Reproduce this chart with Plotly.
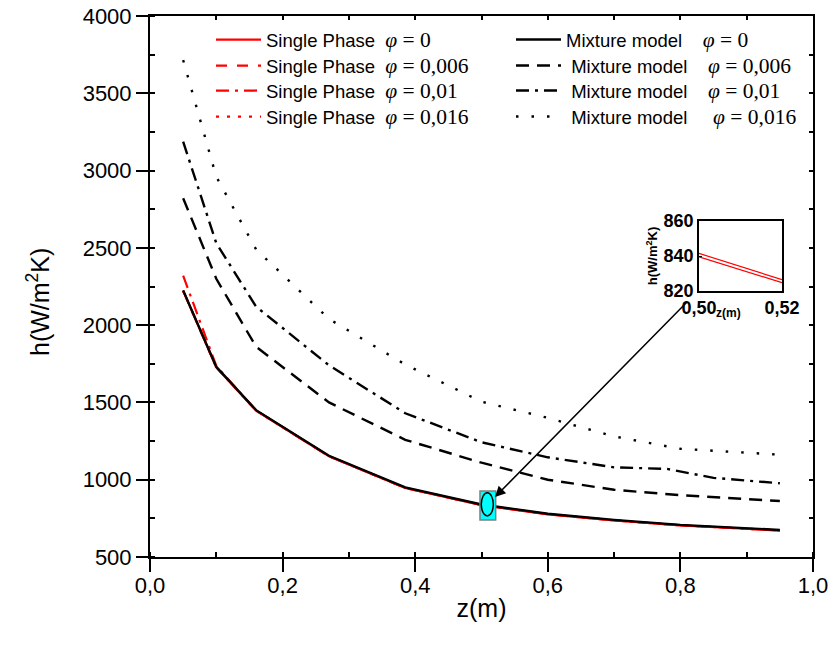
import plotly.graph_objects as go

# ---- data: heat transfer coefficient h along the tube axis z ----
z_main = [0.05, 0.10, 0.16, 0.27, 0.385, 0.50, 0.60, 0.70, 0.80, 0.95]

mix_0 = [2225, 1730, 1450, 1155, 950, 840, 780, 740, 708, 675]
mix_006 = [2821, 2300, 1860, 1500, 1258, 1110, 1000, 935, 900, 862]
z_mix_01 = [0.05, 0.10, 0.16, 0.27, 0.385, 0.50, 0.60, 0.70, 0.78, 0.85, 0.95]
mix_01 = [3187, 2530, 2120, 1740, 1430, 1242, 1145, 1080, 1070, 1012, 977]
z_mix_016 = [0.05, 0.10, 0.16, 0.27, 0.385, 0.50, 0.60, 0.70, 0.80, 0.95]
mix_016 = [3715, 2960, 2490, 2040, 1745, 1505, 1400, 1280, 1200, 1162]

sp_0 = [2222, 1727, 1447, 1151, 946, 836, 776, 736, 704, 671]
sp_006 = [2223, 1728, 1448, 1152, 947, 837, 777, 737, 705, 672]
sp_01 = [2320, 1736, 1448, 1152, 947, 837, 777, 737, 705, 672]
sp_016 = [2222, 1727, 1447, 1152, 947, 837, 777, 737, 705, 672]

# zoomed window around z = 0.5
z_zoom = [0.50, 0.52]
zoom_a = [841.5, 826.5]
zoom_b = [839.5, 824.8]

x_ticks = [0, 0.2, 0.4, 0.6, 0.8, 1.0]
x_ticktext = ["0,0", "0,2", "0,4", "0,6", "0,8", "1,0"]
y_ticks = [500, 1000, 1500, 2000, 2500, 3000, 3500, 4000]
zoom_xticks = [0.50, 0.52]
zoom_xtext = ["0,50", "0,52"]
zoom_yticks = [820, 840, 860]

phi_labels = ["0", "0,006", "0,01", "0,016"]

DASH = "13px,8px"
DASHDOT = "13px,6px,3px,6px"
DOT = "2.5px,13px"

NB = "\u00a0"

# plot area in pixels (used to place the legend rows)
FIG_W, FIG_H = 830, 645
M_L, M_R, M_T, M_B = 150, 17, 16, 88
PW, PH = FIG_W - M_L - M_R, FIG_H - M_T - M_B


def px_x(px):
    return (px - M_L) / PW


def px_y(py):
    return (FIG_H - M_B - py) / PH


def phi_text(val):
    return ('<span style="font-family:\'Liberation Serif\'; font-size:21.5px">'
            '<i>φ</i> = ' + val + '</span>')


fig = go.Figure()

legend_rows = [40, 66, 91, 117]
legend_layouts = {}

sp_series = [(sp_0, "solid"), (sp_006, "11px,10px"), (sp_01, DASHDOT), (sp_016, "3px,8px")]
for i, ((vals, dash), lab) in enumerate(zip(sp_series, phi_labels)):
    lname = "legend" if i == 0 else "legend%d" % (i + 1)
    fig.add_trace(go.Scatter(
        x=z_main, y=vals, mode="lines",
        line=dict(color="#ff0000", width=2.2, dash=dash),
        name="Single Phase" + NB * 2 + phi_text(lab),
        legend=lname,
    ))
    legend_layouts[lname] = dict(x=px_x(211), y=px_y(legend_rows[i]))

mix_series = [(z_main, mix_0, "solid"), (z_main, mix_006, DASH),
              (z_mix_01, mix_01, DASHDOT), (z_mix_016, mix_016, DOT)]
mix_pad = [4, 4, 4, 5]
mix_lead = [0, 1, 1, 1]
for i, ((zz, vals, dash), lab) in enumerate(zip(mix_series, phi_labels)):
    lname = "legend%d" % (i + 5)
    fig.add_trace(go.Scatter(
        x=zz, y=vals, mode="lines",
        line=dict(color="#000000", width=2.4, dash=dash),
        name=NB * mix_lead[i] + "Mixture model" + NB * mix_pad[i] + phi_text(lab),
        legend=lname,
    ))
    legend_layouts[lname] = dict(x=px_x(511), y=px_y(legend_rows[i]))

# inset
for vals in (zoom_a, zoom_b):
    fig.add_trace(go.Scatter(
        x=z_zoom, y=vals, mode="lines", xaxis="x3", yaxis="y3",
        line=dict(color="#ff0000", width=1.2), showlegend=False,
    ))

# carrier for the mirrored tick axes on top / right
fig.add_trace(go.Scatter(x=[], y=[], xaxis="x4", yaxis="y4", showlegend=False))

AX_FONT = dict(family="Liberation Sans, Arial", size=22, color="black")
INSET_FONT = dict(family="Liberation Sans, Arial", size=18, color="black", weight="bold")

layout_legends = {}
for lname, pos in legend_layouts.items():
    layout_legends[lname] = dict(
        x=pos["x"], y=pos["y"], xanchor="left", yanchor="middle",
        bgcolor="rgba(0,0,0,0)", borderwidth=0, itemwidth=45,
        font=dict(size=18.5, family="Liberation Sans, Arial", color="black"),
    )

fig.update_layout(
    width=FIG_W, height=FIG_H,
    margin=dict(l=M_L, r=M_R, t=M_T, b=M_B, autoexpand=False),
    paper_bgcolor="white", plot_bgcolor="white",
    font=dict(family="Liberation Sans, Arial", color="black"),
    xaxis=dict(
        range=[0, 1], tickvals=x_ticks, ticktext=x_ticktext,
        ticks="outside", ticklen=13, tickwidth=2, tickcolor="black",
        showline=True, linewidth=2, linecolor="black", mirror=True,
        showgrid=False, zeroline=False, tickfont=AX_FONT, automargin=False,
        ticklabelstandoff=-5,
        minor=dict(ticks="inside", ticklen=5, tickwidth=1.5, dtick=0.1, tick0=0,
                   tickcolor="black", showgrid=False),
        title=dict(text="z(m)", font=dict(size=25), standoff=2),
    ),
    yaxis=dict(
        range=[500, 4000], tickvals=y_ticks,
        ticks="outside", ticklen=12, tickwidth=2, tickcolor="black",
        showline=True, linewidth=2, linecolor="black", mirror=True,
        showgrid=False, zeroline=False, tickfont=AX_FONT, automargin=False,
        minor=dict(ticks="inside", ticklen=5, tickwidth=1.5, dtick=250, tick0=500,
                   tickcolor="black", showgrid=False),
    ),
    xaxis4=dict(overlaying="x", side="top", range=[0, 1], dtick=0.1, tick0=0,
                ticks="inside", ticklen=4, tickwidth=1.5, tickcolor="black",
                showticklabels=False, showline=False, showgrid=False, zeroline=False,
                automargin=False),
    yaxis4=dict(overlaying="y", side="right", range=[500, 4000], dtick=250, tick0=500,
                ticks="inside", ticklen=4, tickwidth=1.5, tickcolor="black",
                showticklabels=False, showline=False, showgrid=False, zeroline=False,
                automargin=False),
    xaxis3=dict(
        domain=[px_x(699), px_x(782)], anchor="y3", range=[0.50, 0.52],
        tickvals=zoom_xticks, ticktext=zoom_xtext,
        ticks="inside", ticklen=3, tickcolor="black",
        showline=True, linewidth=1.5, linecolor="black", mirror=True,
        showgrid=False, zeroline=False, tickfont=INSET_FONT, automargin=False,
    ),
    yaxis3=dict(
        domain=[px_y(291), px_y(221)], anchor="x3", range=[820, 860],
        tickvals=zoom_yticks,
        ticks="inside", ticklen=3, tickcolor="black",
        showline=True, linewidth=1.5, linecolor="black", mirror=True,
        showgrid=False, zeroline=False, tickfont=INSET_FONT, automargin=False,
        title=dict(text="<b>h(W/m<sup>2</sup>K)</b>", font=dict(size=13), standoff=3),
    ),
    **layout_legends,
)

# y-axis title, placed a little below the vertical centre of the frame
fig.add_annotation(x=px_x(20), y=px_y(302), xref="paper", yref="paper",
                   text="h(W/m<sup>2</sup>K)", textangle=-90, showarrow=False,
                   font=dict(size=25, color="black"))

# highlighted region and callout arrow
fig.add_shape(type="rect", xref="x", yref="y", x0=0.4977, x1=0.5214, y0=739, y1=927,
              fillcolor="#00ffff", line=dict(color="#808080", width=1.5), layer="above")
fig.add_shape(type="circle", xref="x", yref="y", x0=0.4997, x1=0.5178, y0=766, y1=915,
              line=dict(color="black", width=1.5), layer="above")
fig.add_annotation(x=0.5204, y=888, ax=0.8115, ay=2156, xref="x", yref="y",
                   axref="x", ayref="y", text="", showarrow=True,
                   arrowhead=2, arrowsize=1.4, arrowwidth=1.5, arrowcolor="black")
fig.add_annotation(x=px_x(743), y=px_y(313), xref="paper", yref="paper", text="<b>z(m)</b>",
                   showarrow=False, font=dict(size=12, color="black"))

fig.write_html("out.html")
